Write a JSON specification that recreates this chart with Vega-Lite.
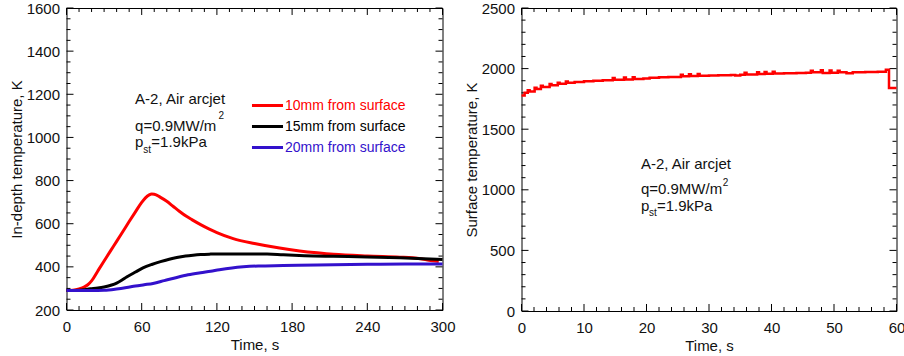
{
  "$schema": "https://vega.github.io/schema/vega-lite/v6.json",
  "background": "white",
  "padding": {"left": 8.5, "top": 0, "right": 0, "bottom": 0},
  "spacing": 7,
  "config": {
    "view": {"stroke": "black", "strokeWidth": 1},
    "axis": {
      "grid": false,
      "domain": false,
      "labelFont": "Liberation Sans",
      "titleFont": "Liberation Sans",
      "labelFontSize": 15,
      "titleFontSize": 15,
      "titleFontWeight": "normal",
      "labelColor": "#111111",
      "titleColor": "#111111",
      "labelFlush": false,
      "labelOverlap": false,
      "format": "d"
    },
    "text": {"font": "Liberation Sans", "color": "#111111"},
    "rule": {"color": "#000000", "strokeWidth": 1}
  },
  "datasets": {
    "indepth": [
      {"series": "10mm from surface", "time": 0, "temp": 290},
      {"series": "10mm from surface", "time": 5, "temp": 292},
      {"series": "10mm from surface", "time": 10, "temp": 298},
      {"series": "10mm from surface", "time": 14, "temp": 306},
      {"series": "10mm from surface", "time": 17, "temp": 317},
      {"series": "10mm from surface", "time": 20, "temp": 335},
      {"series": "10mm from surface", "time": 25, "temp": 381},
      {"series": "10mm from surface", "time": 30, "temp": 427},
      {"series": "10mm from surface", "time": 35, "temp": 473},
      {"series": "10mm from surface", "time": 40, "temp": 518},
      {"series": "10mm from surface", "time": 45, "temp": 564},
      {"series": "10mm from surface", "time": 50, "temp": 610},
      {"series": "10mm from surface", "time": 55, "temp": 655},
      {"series": "10mm from surface", "time": 60, "temp": 699},
      {"series": "10mm from surface", "time": 63, "temp": 720},
      {"series": "10mm from surface", "time": 66, "temp": 734},
      {"series": "10mm from surface", "time": 68, "temp": 738},
      {"series": "10mm from surface", "time": 70, "temp": 737},
      {"series": "10mm from surface", "time": 75, "temp": 722},
      {"series": "10mm from surface", "time": 80, "temp": 704},
      {"series": "10mm from surface", "time": 85, "temp": 681},
      {"series": "10mm from surface", "time": 90, "temp": 658},
      {"series": "10mm from surface", "time": 96, "temp": 633},
      {"series": "10mm from surface", "time": 100, "temp": 619},
      {"series": "10mm from surface", "time": 107, "temp": 596},
      {"series": "10mm from surface", "time": 114, "temp": 575},
      {"series": "10mm from surface", "time": 120, "temp": 559},
      {"series": "10mm from surface", "time": 133, "temp": 531},
      {"series": "10mm from surface", "time": 150, "temp": 508},
      {"series": "10mm from surface", "time": 170, "temp": 487},
      {"series": "10mm from surface", "time": 186, "temp": 474},
      {"series": "10mm from surface", "time": 200, "temp": 465},
      {"series": "10mm from surface", "time": 213, "temp": 458},
      {"series": "10mm from surface", "time": 240, "temp": 450},
      {"series": "10mm from surface", "time": 266, "temp": 445},
      {"series": "10mm from surface", "time": 276, "temp": 442},
      {"series": "10mm from surface", "time": 285, "temp": 435},
      {"series": "10mm from surface", "time": 292, "temp": 428},
      {"series": "10mm from surface", "time": 297, "temp": 425},
      {"series": "15mm from surface", "time": 0, "temp": 290},
      {"series": "15mm from surface", "time": 10, "temp": 291},
      {"series": "15mm from surface", "time": 19, "temp": 298},
      {"series": "15mm from surface", "time": 25, "temp": 302},
      {"series": "15mm from surface", "time": 30, "temp": 307},
      {"series": "15mm from surface", "time": 36, "temp": 316},
      {"series": "15mm from surface", "time": 40, "temp": 325},
      {"series": "15mm from surface", "time": 44, "temp": 338},
      {"series": "15mm from surface", "time": 48, "temp": 353},
      {"series": "15mm from surface", "time": 55, "temp": 376},
      {"series": "15mm from surface", "time": 61, "temp": 395},
      {"series": "15mm from surface", "time": 68, "temp": 411},
      {"series": "15mm from surface", "time": 75, "temp": 424},
      {"series": "15mm from surface", "time": 82, "temp": 435},
      {"series": "15mm from surface", "time": 88, "temp": 443},
      {"series": "15mm from surface", "time": 95, "temp": 450},
      {"series": "15mm from surface", "time": 101, "temp": 454},
      {"series": "15mm from surface", "time": 107, "temp": 457},
      {"series": "15mm from surface", "time": 114, "temp": 459},
      {"series": "15mm from surface", "time": 120, "temp": 460},
      {"series": "15mm from surface", "time": 140, "temp": 460},
      {"series": "15mm from surface", "time": 160, "temp": 460},
      {"series": "15mm from surface", "time": 173, "temp": 456},
      {"series": "15mm from surface", "time": 190, "temp": 452},
      {"series": "15mm from surface", "time": 213, "temp": 449},
      {"series": "15mm from surface", "time": 240, "temp": 446},
      {"series": "15mm from surface", "time": 266, "temp": 442},
      {"series": "15mm from surface", "time": 285, "temp": 438},
      {"series": "15mm from surface", "time": 300, "temp": 434},
      {"series": "20mm from surface", "time": 0, "temp": 290},
      {"series": "20mm from surface", "time": 10, "temp": 290},
      {"series": "20mm from surface", "time": 20, "temp": 290},
      {"series": "20mm from surface", "time": 30, "temp": 291},
      {"series": "20mm from surface", "time": 40, "temp": 297},
      {"series": "20mm from surface", "time": 48, "temp": 304},
      {"series": "20mm from surface", "time": 55, "temp": 311},
      {"series": "20mm from surface", "time": 62, "temp": 317},
      {"series": "20mm from surface", "time": 69, "temp": 323},
      {"series": "20mm from surface", "time": 78, "temp": 336},
      {"series": "20mm from surface", "time": 88, "temp": 351},
      {"series": "20mm from surface", "time": 97, "temp": 363},
      {"series": "20mm from surface", "time": 107, "temp": 373},
      {"series": "20mm from surface", "time": 115, "temp": 380},
      {"series": "20mm from surface", "time": 122, "temp": 387},
      {"series": "20mm from surface", "time": 132, "temp": 395},
      {"series": "20mm from surface", "time": 141, "temp": 400},
      {"series": "20mm from surface", "time": 153, "temp": 404},
      {"series": "20mm from surface", "time": 173, "temp": 406},
      {"series": "20mm from surface", "time": 200, "temp": 409},
      {"series": "20mm from surface", "time": 240, "temp": 412},
      {"series": "20mm from surface", "time": 270, "temp": 413},
      {"series": "20mm from surface", "time": 300, "temp": 413}
    ],
    "surface": [
      {"time": 0, "temp": 1778},
      {"time": 0.5, "temp": 1800},
      {"time": 1.0, "temp": 1822},
      {"time": 1.3, "temp": 1812},
      {"time": 2.1, "temp": 1842},
      {"time": 2.4, "temp": 1832},
      {"time": 3.1, "temp": 1858},
      {"time": 3.4, "temp": 1848},
      {"time": 4.5, "temp": 1872},
      {"time": 4.8, "temp": 1862},
      {"time": 5.8, "temp": 1884},
      {"time": 6.1, "temp": 1874},
      {"time": 7.1, "temp": 1894},
      {"time": 7.4, "temp": 1884},
      {"time": 8.5, "temp": 1890},
      {"time": 10, "temp": 1896},
      {"time": 11.5, "temp": 1900},
      {"time": 13, "temp": 1903},
      {"time": 14.6, "temp": 1922},
      {"time": 14.9, "temp": 1907},
      {"time": 16.4, "temp": 1926},
      {"time": 16.7, "temp": 1911},
      {"time": 17.8, "temp": 1929},
      {"time": 18.1, "temp": 1914},
      {"time": 19.5, "temp": 1918},
      {"time": 20.5, "temp": 1925},
      {"time": 22, "temp": 1928},
      {"time": 23.5, "temp": 1931},
      {"time": 25.5, "temp": 1950},
      {"time": 25.8, "temp": 1936},
      {"time": 26.8, "temp": 1953},
      {"time": 27.1, "temp": 1938},
      {"time": 28.2, "temp": 1956},
      {"time": 28.5, "temp": 1941},
      {"time": 30, "temp": 1944},
      {"time": 31.5, "temp": 1946},
      {"time": 33.5, "temp": 1948},
      {"time": 34.2, "temp": 1944},
      {"time": 35, "temp": 1950},
      {"time": 35.7, "temp": 1966},
      {"time": 36, "temp": 1952},
      {"time": 37.7, "temp": 1970},
      {"time": 38, "temp": 1955},
      {"time": 38.9, "temp": 1972},
      {"time": 39.2, "temp": 1957},
      {"time": 40.2, "temp": 1973},
      {"time": 40.5, "temp": 1959},
      {"time": 42, "temp": 1961},
      {"time": 44, "temp": 1963},
      {"time": 45.5, "temp": 1966},
      {"time": 46.3, "temp": 1982},
      {"time": 46.6, "temp": 1969},
      {"time": 47.9, "temp": 1987},
      {"time": 48.2, "temp": 1964},
      {"time": 49.3, "temp": 1984},
      {"time": 49.6, "temp": 1966},
      {"time": 50.6, "temp": 1982},
      {"time": 50.9, "temp": 1970},
      {"time": 52, "temp": 1962},
      {"time": 53, "temp": 1970},
      {"time": 55, "temp": 1972},
      {"time": 57, "temp": 1974},
      {"time": 58.3, "temp": 1990},
      {"time": 58.8, "temp": 1840},
      {"time": 60, "temp": 1840}
    ],
    "indepthTimeMajor": [{"time": 0}, {"time": 60}, {"time": 120}, {"time": 180}, {"time": 240}, {"time": 300}],
    "indepthTimeMinor": [{"time": 10}, {"time": 20}, {"time": 30}, {"time": 40}, {"time": 50}, {"time": 70}, {"time": 80}, {"time": 90}, {"time": 100}, {"time": 110}, {"time": 130}, {"time": 140}, {"time": 150}, {"time": 160}, {"time": 170}, {"time": 190}, {"time": 200}, {"time": 210}, {"time": 220}, {"time": 230}, {"time": 250}, {"time": 260}, {"time": 270}, {"time": 280}, {"time": 290}],
    "indepthTempMajor": [{"temp": 200}, {"temp": 400}, {"temp": 600}, {"temp": 800}, {"temp": 1000}, {"temp": 1200}, {"temp": 1400}, {"temp": 1600}],
    "indepthTempMinor": [{"temp": 250}, {"temp": 300}, {"temp": 350}, {"temp": 450}, {"temp": 500}, {"temp": 550}, {"temp": 650}, {"temp": 700}, {"temp": 750}, {"temp": 850}, {"temp": 900}, {"temp": 950}, {"temp": 1050}, {"temp": 1100}, {"temp": 1150}, {"temp": 1250}, {"temp": 1300}, {"temp": 1350}, {"temp": 1450}, {"temp": 1500}, {"temp": 1550}],
    "surfaceTimeMajor": [{"time": 0}, {"time": 10}, {"time": 20}, {"time": 30}, {"time": 40}, {"time": 50}, {"time": 60}],
    "surfaceTimeMinor": [{"time": 2}, {"time": 4}, {"time": 6}, {"time": 8}, {"time": 12}, {"time": 14}, {"time": 16}, {"time": 18}, {"time": 22}, {"time": 24}, {"time": 26}, {"time": 28}, {"time": 32}, {"time": 34}, {"time": 36}, {"time": 38}, {"time": 42}, {"time": 44}, {"time": 46}, {"time": 48}, {"time": 52}, {"time": 54}, {"time": 56}, {"time": 58}],
    "surfaceTempMajor": [{"temp": 0}, {"temp": 500}, {"temp": 1000}, {"temp": 1500}, {"temp": 2000}, {"temp": 2500}],
    "surfaceTempMinor": [{"temp": 100}, {"temp": 200}, {"temp": 300}, {"temp": 400}, {"temp": 600}, {"temp": 700}, {"temp": 800}, {"temp": 900}, {"temp": 1100}, {"temp": 1200}, {"temp": 1300}, {"temp": 1400}, {"temp": 1600}, {"temp": 1700}, {"temp": 1800}, {"temp": 1900}, {"temp": 2100}, {"temp": 2200}, {"temp": 2300}, {"temp": 2400}]
  },
  "hconcat": [
    {
      "width": 376,
      "height": 302,
      "resolve": {"axis": {"x": "independent", "y": "independent"}},
      "layer": [
        {
          "data": {"name": "indepthTimeMajor"},
          "mark": {"type": "rule"},
          "encoding": {
            "x": {"field": "time", "type": "quantitative", "axis": null},
            "y": {"datum": 200, "type": "quantitative", "axis": null},
            "y2": {"datum": 232.45}
          }
        },
        {
          "data": {"name": "indepthTimeMajor"},
          "mark": {"type": "rule"},
          "encoding": {
            "x": {"field": "time", "type": "quantitative", "axis": null},
            "y": {"datum": 1600, "type": "quantitative", "axis": null},
            "y2": {"datum": 1567.55}
          }
        },
        {
          "data": {"name": "indepthTimeMinor"},
          "mark": {"type": "rule"},
          "encoding": {
            "x": {"field": "time", "type": "quantitative", "axis": null},
            "y": {"datum": 200, "type": "quantitative", "axis": null},
            "y2": {"datum": 218.54}
          }
        },
        {
          "data": {"name": "indepthTimeMinor"},
          "mark": {"type": "rule"},
          "encoding": {
            "x": {"field": "time", "type": "quantitative", "axis": null},
            "y": {"datum": 1600, "type": "quantitative", "axis": null},
            "y2": {"datum": 1581.46}
          }
        },
        {
          "data": {"name": "indepthTempMajor"},
          "mark": {"type": "rule"},
          "encoding": {
            "x": {"datum": 0, "type": "quantitative", "axis": null},
            "x2": {"datum": 5.585},
            "y": {"field": "temp", "type": "quantitative", "axis": null}
          }
        },
        {
          "data": {"name": "indepthTempMajor"},
          "mark": {"type": "rule"},
          "encoding": {
            "x": {"datum": 300, "type": "quantitative", "axis": null},
            "x2": {"datum": 294.415},
            "y": {"field": "temp", "type": "quantitative", "axis": null}
          }
        },
        {
          "data": {"name": "indepthTempMinor"},
          "mark": {"type": "rule"},
          "encoding": {
            "x": {"datum": 0, "type": "quantitative", "axis": null},
            "x2": {"datum": 3.19},
            "y": {"field": "temp", "type": "quantitative", "axis": null}
          }
        },
        {
          "data": {"name": "indepthTempMinor"},
          "mark": {"type": "rule"},
          "encoding": {
            "x": {"datum": 300, "type": "quantitative", "axis": null},
            "x2": {"datum": 296.81},
            "y": {"field": "temp", "type": "quantitative", "axis": null}
          }
        },
        {
          "data": {"name": "indepth"},
          "mark": {"type": "line", "strokeWidth": 3, "interpolate": "monotone"},
          "encoding": {
            "x": {
              "field": "time", "type": "quantitative",
              "scale": {"domain": [0, 300], "nice": false, "zero": false},
              "axis": {"orient": "bottom", "values": [0, 60, 120, 180, 240, 300], "ticks": false, "tickSize": 0, "labelPadding": 9, "title": "Time, s", "titlePadding": 3}
            },
            "y": {
              "field": "temp", "type": "quantitative",
              "scale": {"domain": [200, 1600], "nice": false, "zero": false},
              "axis": {"orient": "left", "values": [200, 400, 600, 800, 1000, 1200, 1400, 1600], "ticks": false, "tickSize": 0, "labelPadding": 7, "title": "In-depth temperature, K", "titlePadding": 2}
            },
            "color": {
              "field": "series", "type": "nominal",
              "scale": {"domain": ["10mm from surface", "15mm from surface", "20mm from surface"], "range": ["#ff0000", "#000000", "#3311cc"]},
              "legend": {
                "orient": "none", "legendX": 194, "legendY": 90.5, "title": null,
                "symbolType": "M-3,0H3", "symbolSize": 107, "symbolStrokeWidth": 3,
                "symbolFillColor": "transparent",
                "labelFont": "Liberation Sans", "labelFontSize": 14, "labelOffset": 10.5,
                "labelLimit": 0, "rowPadding": 7, "padding": 0,
                "encode": {"labels": {"update": {"fill": {"signal": "datum.value === '10mm from surface' ? '#ff0000' : datum.value === '15mm from surface' ? '#000000' : '#3311cc'"}}}}
              }
            }
          }
        },
        {
          "data": {"values": [{"note": "A-2, Air arcjet"}]},
          "mark": {"type": "text", "align": "left", "baseline": "middle", "fontSize": 15},
          "encoding": {
            "x": {"datum": 54.7, "type": "quantitative", "axis": null},
            "y": {"datum": 1179, "type": "quantitative", "axis": null},
            "text": {"field": "note"}
          }
        },
        {
          "data": {"values": [{"note": "q=0.9MW/m"}]},
          "mark": {"type": "text", "align": "left", "baseline": "middle", "fontSize": 15},
          "encoding": {
            "x": {"datum": 54.7, "type": "quantitative", "axis": null},
            "y": {"datum": 1055, "type": "quantitative", "axis": null},
            "text": {"field": "note"}
          }
        },
        {
          "data": {"values": [{"note": "2"}]},
          "mark": {"type": "text", "align": "left", "baseline": "middle", "fontSize": 10},
          "encoding": {
            "x": {"datum": 121.3, "type": "quantitative", "axis": null},
            "y": {"datum": 1098, "type": "quantitative", "axis": null},
            "text": {"field": "note"}
          }
        },
        {
          "data": {"values": [{"note": "p"}]},
          "mark": {"type": "text", "align": "left", "baseline": "middle", "fontSize": 15},
          "encoding": {
            "x": {"datum": 54.7, "type": "quantitative", "axis": null},
            "y": {"datum": 977, "type": "quantitative", "axis": null},
            "text": {"field": "note"}
          }
        },
        {
          "data": {"values": [{"note": "st"}]},
          "mark": {"type": "text", "align": "left", "baseline": "middle", "fontSize": 10},
          "encoding": {
            "x": {"datum": 61.3, "type": "quantitative", "axis": null},
            "y": {"datum": 944, "type": "quantitative", "axis": null},
            "text": {"field": "note"}
          }
        },
        {
          "data": {"values": [{"note": "=1.9kPa"}]},
          "mark": {"type": "text", "align": "left", "baseline": "middle", "fontSize": 15},
          "encoding": {
            "x": {"datum": 67.7, "type": "quantitative", "axis": null},
            "y": {"datum": 977, "type": "quantitative", "axis": null},
            "text": {"field": "note"}
          }
        }
      ]
    },
    {
      "width": 375,
      "height": 303,
      "resolve": {"axis": {"x": "independent", "y": "independent"}},
      "layer": [
        {
          "data": {"name": "surfaceTimeMajor"},
          "mark": {"type": "rule"},
          "encoding": {
            "x": {"field": "time", "type": "quantitative", "axis": null},
            "y": {"datum": 0, "type": "quantitative", "axis": null},
            "y2": {"datum": 57.76}
          }
        },
        {
          "data": {"name": "surfaceTimeMajor"},
          "mark": {"type": "rule"},
          "encoding": {
            "x": {"field": "time", "type": "quantitative", "axis": null},
            "y": {"datum": 2500, "type": "quantitative", "axis": null},
            "y2": {"datum": 2442.24}
          }
        },
        {
          "data": {"name": "surfaceTimeMinor"},
          "mark": {"type": "rule"},
          "encoding": {
            "x": {"field": "time", "type": "quantitative", "axis": null},
            "y": {"datum": 0, "type": "quantitative", "axis": null},
            "y2": {"datum": 33}
          }
        },
        {
          "data": {"name": "surfaceTimeMinor"},
          "mark": {"type": "rule"},
          "encoding": {
            "x": {"field": "time", "type": "quantitative", "axis": null},
            "y": {"datum": 2500, "type": "quantitative", "axis": null},
            "y2": {"datum": 2467}
          }
        },
        {
          "data": {"name": "surfaceTempMajor"},
          "mark": {"type": "rule"},
          "encoding": {
            "x": {"datum": 0, "type": "quantitative", "axis": null},
            "x2": {"datum": 1.12},
            "y": {"field": "temp", "type": "quantitative", "axis": null}
          }
        },
        {
          "data": {"name": "surfaceTempMajor"},
          "mark": {"type": "rule"},
          "encoding": {
            "x": {"datum": 60, "type": "quantitative", "axis": null},
            "x2": {"datum": 58.88},
            "y": {"field": "temp", "type": "quantitative", "axis": null}
          }
        },
        {
          "data": {"name": "surfaceTempMinor"},
          "mark": {"type": "rule"},
          "encoding": {
            "x": {"datum": 0, "type": "quantitative", "axis": null},
            "x2": {"datum": 0.64},
            "y": {"field": "temp", "type": "quantitative", "axis": null}
          }
        },
        {
          "data": {"name": "surfaceTempMinor"},
          "mark": {"type": "rule"},
          "encoding": {
            "x": {"datum": 60, "type": "quantitative", "axis": null},
            "x2": {"datum": 59.36},
            "y": {"field": "temp", "type": "quantitative", "axis": null}
          }
        },
        {
          "data": {"name": "surface"},
          "mark": {"type": "line", "strokeWidth": 2.5, "interpolate": "step-after", "color": "#ff0000"},
          "encoding": {
            "x": {
              "field": "time", "type": "quantitative",
              "scale": {"domain": [0, 60], "nice": false, "zero": false},
              "axis": {"orient": "bottom", "values": [0, 10, 20, 30, 40, 50, 60], "ticks": false, "tickSize": 0, "labelPadding": 9, "title": "Time, s", "titlePadding": 3}
            },
            "y": {
              "field": "temp", "type": "quantitative",
              "scale": {"domain": [0, 2500], "nice": false},
              "axis": {"orient": "left", "values": [0, 500, 1000, 1500, 2000, 2500], "ticks": false, "tickSize": 0, "labelPadding": 7, "title": "Surface temperature, K", "titlePadding": 2}
            }
          }
        },
        {
          "data": {"values": [{"note": "A-2, Air arcjet"}]},
          "mark": {"type": "text", "align": "left", "baseline": "middle", "fontSize": 15},
          "encoding": {
            "x": {"datum": 19.1, "type": "quantitative", "axis": null},
            "y": {"datum": 1215, "type": "quantitative", "axis": null},
            "text": {"field": "note"}
          }
        },
        {
          "data": {"values": [{"note": "q=0.9MW/m"}]},
          "mark": {"type": "text", "align": "left", "baseline": "middle", "fontSize": 15},
          "encoding": {
            "x": {"datum": 19.1, "type": "quantitative", "axis": null},
            "y": {"datum": 1003, "type": "quantitative", "axis": null},
            "text": {"field": "note"}
          }
        },
        {
          "data": {"values": [{"note": "2"}]},
          "mark": {"type": "text", "align": "left", "baseline": "middle", "fontSize": 10},
          "encoding": {
            "x": {"datum": 32.2, "type": "quantitative", "axis": null},
            "y": {"datum": 1060, "type": "quantitative", "axis": null},
            "text": {"field": "note"}
          }
        },
        {
          "data": {"values": [{"note": "p"}]},
          "mark": {"type": "text", "align": "left", "baseline": "middle", "fontSize": 15},
          "encoding": {
            "x": {"datum": 19.1, "type": "quantitative", "axis": null},
            "y": {"datum": 870, "type": "quantitative", "axis": null},
            "text": {"field": "note"}
          }
        },
        {
          "data": {"values": [{"note": "st"}]},
          "mark": {"type": "text", "align": "left", "baseline": "middle", "fontSize": 10},
          "encoding": {
            "x": {"datum": 20.4, "type": "quantitative", "axis": null},
            "y": {"datum": 812, "type": "quantitative", "axis": null},
            "text": {"field": "note"}
          }
        },
        {
          "data": {"values": [{"note": "=1.9kPa"}]},
          "mark": {"type": "text", "align": "left", "baseline": "middle", "fontSize": 15},
          "encoding": {
            "x": {"datum": 21.66, "type": "quantitative", "axis": null},
            "y": {"datum": 870, "type": "quantitative", "axis": null},
            "text": {"field": "note"}
          }
        }
      ]
    }
  ],
  "resolve": {"scale": {"x": "independent", "y": "independent"}}
}
